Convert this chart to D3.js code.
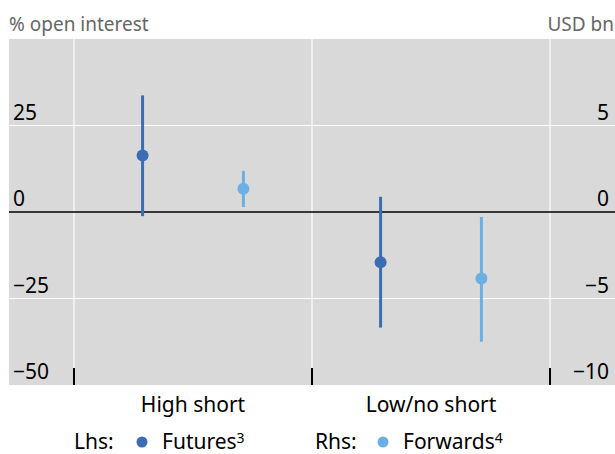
<!DOCTYPE html>
<html>
<head>
<meta charset="utf-8">
<script src="https://cdn.jsdelivr.net/npm/d3@7"></script>
<style>
  html, body { margin: 0; padding: 0; background: #fff; }
  svg { display: block; font-family: "Noto Sans", sans-serif; }
</style>
</head>
<body>
<div id="chart"></div>
<script>
// data
const categories = ["High short", "Low/no short"];
const series = ["Futures", "Forwards"];

// futures, lhs (% open interest)
const futuresMid = [16.3, -14.5];
const futuresLo = [-1.2, -33.4];
const futuresHi = [33.7, 4.4];

// forwards, rhs (USD bn)
const forwardsMid = [1.34, -3.84];
const forwardsLo = [0.29, -7.5];
const forwardsHi = [2.38, -0.29];

const leftTicks = [-50, -25, 0, 25];
const rightTicks = [-10, -5, 0, 5];

const W = 615, H = 454;
const plot = { left: 9, right: 615, top: 39, bottom: 385 };

const svg = d3.select("#chart").append("svg")
  .attr("width", W)
  .attr("height", H);

const yL = d3.scaleLinear().domain([-50, 50]).range([plot.bottom, plot.top]);
const yR = d3.scaleLinear().domain([-10, 10]).range([plot.bottom, plot.top]);

const x = d3.scaleBand()
  .domain(categories)
  .range([74, 550])
  .padding(0);

const xs = d3.scalePoint()
  .domain(series)
  .range([0, x.bandwidth()])
  .padding(0.68);

const colors = { Futures: "#3b6db3", Forwards: "#6cb0e3" };

// background
svg.append("rect")
  .attr("x", plot.left)
  .attr("y", plot.top)
  .attr("width", plot.right - plot.left)
  .attr("height", plot.bottom - plot.top)
  .attr("fill", "#d9d9d9");

// white grid
svg.append("g")
  .selectAll("line")
  .data([-25, 25])
  .join("line")
  .attr("x1", plot.left)
  .attr("x2", plot.right)
  .attr("y1", d => yL(d))
  .attr("y2", d => yL(d))
  .attr("stroke", "#fff")
  .attr("stroke-width", 1.2);

const xEdges = [x(categories[0]), x(categories[1]), x(categories[1]) + x.bandwidth()];

svg.append("g")
  .selectAll("line")
  .data(xEdges)
  .join("line")
  .attr("x1", d => d)
  .attr("x2", d => d)
  .attr("y1", plot.top)
  .attr("y2", plot.bottom)
  .attr("stroke", "#fff")
  .attr("stroke-width", 1.2);

// zero line
svg.append("line")
  .attr("x1", plot.left)
  .attr("x2", plot.right)
  .attr("y1", yL(0))
  .attr("y2", yL(0))
  .attr("stroke", "#000")
  .attr("stroke-width", 1.6);

// bottom tick marks
svg.append("g")
  .selectAll("line")
  .data(xEdges)
  .join("line")
  .attr("x1", d => d)
  .attr("x2", d => d)
  .attr("y1", plot.bottom - 17)
  .attr("y2", plot.bottom)
  .attr("stroke", "#000")
  .attr("stroke-width", 2);

// left axis labels
const leftAxis = svg.append("g")
  .attr("transform", `translate(13,0)`)
  .call(d3.axisRight(yL).tickValues(leftTicks).tickSize(0).tickPadding(0));
leftAxis.select(".domain").remove();
leftAxis.selectAll("text")
  .attr("x", 0)
  .attr("dy", "-0.3em")
  .attr("text-anchor", "start")
  .style("font-size", "21px")
  .style("font-family", "Noto Sans")
  .attr("fill", "#000");

// right axis labels
const rightAxis = svg.append("g")
  .attr("transform", `translate(609,0)`)
  .call(d3.axisLeft(yR).tickValues(rightTicks).tickSize(0).tickPadding(0));
rightAxis.select(".domain").remove();
rightAxis.selectAll("text")
  .attr("x", 0)
  .attr("dy", "-0.3em")
  .attr("text-anchor", "end")
  .style("font-size", "21px")
  .style("font-family", "Noto Sans")
  .attr("fill", "#000");

// axis titles
svg.append("text")
  .attr("x", 9)
  .attr("y", 31)
  .attr("font-size", "19px")
  .attr("fill", "#666")
  .text("% open interest");

svg.append("text")
  .attr("x", 614)
  .attr("y", 31)
  .attr("text-anchor", "end")
  .attr("font-size", "19px")
  .attr("fill", "#666")
  .text("USD bn");

// category labels
svg.append("g")
  .selectAll("text")
  .data(categories)
  .join("text")
  .attr("x", d => x(d) + x.bandwidth() / 2)
  .attr("y", 412)
  .attr("text-anchor", "middle")
  .attr("font-size", "21px")
  .attr("fill", "#000")
  .text(d => d);

// range bars and dots
const rows = [
  { name: "Futures", y: yL, mid: futuresMid, lo: futuresLo, hi: futuresHi },
  { name: "Forwards", y: yR, mid: forwardsMid, lo: forwardsLo, hi: forwardsHi }
];

rows.forEach(s => {
  const pts = categories.map((c, i) => ({
    cx: x(c) + xs(s.name),
    mid: s.mid[i], lo: s.lo[i], hi: s.hi[i]
  }));
  const g = svg.append("g");
  g.selectAll("line")
    .data(pts)
    .join("line")
    .attr("x1", d => d.cx)
    .attr("x2", d => d.cx)
    .attr("y1", d => s.y(d.hi))
    .attr("y2", d => s.y(d.lo))
    .attr("stroke", colors[s.name])
    .attr("stroke-width", 3);
  g.selectAll("circle")
    .data(pts)
    .join("circle")
    .attr("cx", d => d.cx)
    .attr("cy", d => s.y(d.mid))
    .attr("r", 6)
    .attr("fill", colors[s.name]);
});

// legend
const legend = svg.append("g").attr("font-size", "21px").attr("fill", "#000");
const legendItems = [
  { lead: "Lhs:", name: "Futures", sup: "3", x: 74 },
  { lead: "Rhs:", name: "Forwards", sup: "4", x: 315 }
];
legendItems.forEach(it => {
  legend.append("text")
    .attr("x", it.x)
    .attr("y", 449)
    .text(it.lead);
  legend.append("circle")
    .attr("cx", it.x + 68)
    .attr("cy", 442)
    .attr("r", 5.5)
    .attr("fill", colors[it.name]);
  const t = legend.append("text")
    .attr("x", it.x + 88)
    .attr("y", 449)
    .text(it.name);
  t.append("tspan")
    .attr("dy", "-0.45em")
    .attr("font-size", "14px")
    .text(it.sup);
});
</script>
</body>
</html>
